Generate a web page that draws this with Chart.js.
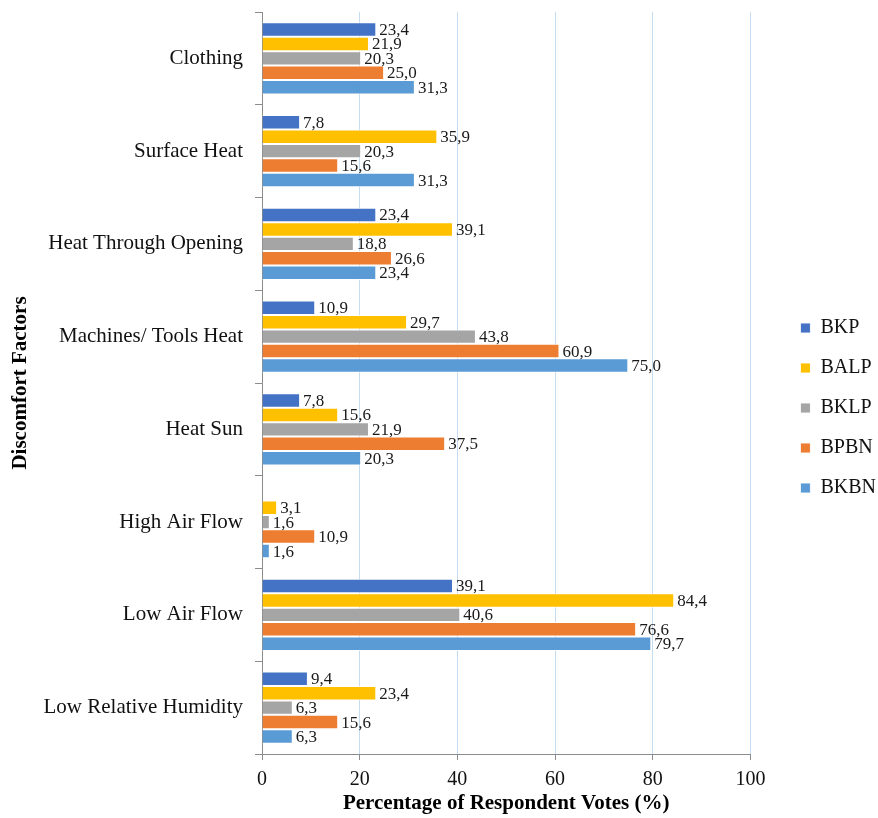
<!DOCTYPE html>
<html>
<head>
<meta charset="utf-8">
<script src="https://cdn.jsdelivr.net/npm/chart.js@4.4.1/dist/chart.umd.min.js"></script>
<style>
  html, body { margin: 0; padding: 0; background: #fff; }
  #wrap { width: 878px; height: 818px; }
</style>
</head>
<body>
<div id="wrap"><canvas id="c"></canvas></div>
<script>
// Discomfort factors, listed top to bottom
const factors = [
  'Clothing',
  'Surface Heat',
  'Heat Through Opening',
  'Machines/ Tools Heat',
  'Heat Sun',
  'High Air Flow',
  'Low Air Flow',
  'Low Relative Humidity'
];

// Percentage of respondent votes per group
const BKP  = [23.4,  7.8, 23.4, 10.9,  7.8, null, 39.1,  9.4];
const BALP = [21.9, 35.9, 39.1, 29.7, 15.6,  3.1, 84.4, 23.4];
const BKLP = [20.3, 20.3, 18.8, 43.8, 21.9,  1.6, 40.6,  6.3];
const BPBN = [25.0, 15.6, 26.6, 60.9, 37.5, 10.9, 76.6, 15.6];
const BKBN = [31.3, 31.3, 23.4, 75.0, 20.3,  1.6, 79.7,  6.3];

const xTicks = [0, 20, 40, 60, 80, 100];

const serif = "'Liberation Serif', 'Times New Roman', serif";

// Value labels written just past the end of each bar, decimal comma
const valueLabels = {
  id: 'valueLabels',
  afterDatasetsDraw(chart) {
    const ctx = chart.ctx;
    ctx.save();
    ctx.font = '17px ' + serif;
    ctx.fillStyle = '#1a1a1a';
    ctx.textAlign = 'left';
    ctx.textBaseline = 'middle';
    chart.data.datasets.forEach((ds, i) => {
      const meta = chart.getDatasetMeta(i);
      if (meta.hidden) return;
      meta.data.forEach((bar, j) => {
        const v = ds.data[j];
        if (v === null || v === undefined) return;
        const txt = v.toFixed(1).replace('.', ',');
        ctx.fillText(txt, bar.x + 3, bar.y + 1);
      });
    });
    ctx.restore();
  }
};

const mk = (label, data, color) => ({
  label, data,
  backgroundColor: color,
  borderColor: 'rgba(255,255,255,0.85)',
  borderWidth: 1,
  categoryPercentage: 0.78,
  barPercentage: 1.0
});

new Chart(document.getElementById('c'), {
  type: 'bar',
  data: {
    labels: factors,
    datasets: [
      mk('BKP',  BKP,  '#4472C4'),
      mk('BALP', BALP, '#FFC000'),
      mk('BKLP', BKLP, '#A5A5A5'),
      mk('BPBN', BPBN, '#ED7D31'),
      mk('BKBN', BKBN, '#5B9BD5')
    ]
  },
  options: {
    indexAxis: 'y',
    responsive: true,
    maintainAspectRatio: false,
    animation: false,
    layout: { padding: { top: 0, right: -8, bottom: 2, left: 4 } },
    plugins: {
      tooltip: { enabled: false },
      legend: {
        position: 'right',
        align: 'center',
        labels: {
          boxWidth: 10,
          boxHeight: 10,
          padding: 20,
          color: '#111',
          font: { family: serif, size: 20 }
        }
      }
    },
    scales: {
      x: {
        min: 0,
        max: 100,
        afterBuildTicks(scale) { scale.ticks = xTicks.map(v => ({ value: v })); },
        afterFit(scale) { scale.height = 62; },
        grid: {
          color: '#C5DBF0',
          lineWidth: 1,
          drawTicks: true,
          tickLength: 6,
          tickColor: '#8c8c8c'
        },
        border: { display: true, color: '#8c8c8c', width: 1 },
        ticks: {
          color: '#111',
          padding: 8,
          font: { family: serif, size: 20 }
        },
        title: {
          display: true,
          text: 'Percentage of Respondent Votes (%)',
          color: '#000',
          padding: { top: 0, bottom: 0 },
          font: { family: serif, size: 21, weight: 'bold' }
        }
      },
      y: {
        afterFit(scale) {
          scale.width = 258;
          scale.paddingTop = 12;
          scale.paddingBottom = 0;
        },
        grid: {
          offset: true,
          drawOnChartArea: false,
          drawTicks: true,
          tickLength: 7,
          color: '#8c8c8c'
        },
        border: { display: true, color: '#8c8c8c', width: 1 },
        ticks: {
          color: '#111',
          padding: 12,
          font: { family: serif, size: 21 }
        },
        title: {
          display: true,
          text: 'Discomfort Factors',
          color: '#000',
          padding: { top: 4, bottom: 10 },
          font: { family: serif, size: 21, weight: 'bold' }
        }
      },
      // empty spacer axis that keeps the legend clear of the plot
      gap: {
        axis: 'y',
        type: 'linear',
        position: 'right',
        display: true,
        grid: { display: false },
        border: { display: false },
        ticks: { display: false },
        afterFit(scale) { scale.width = 30; }
      }
    }
  },
  plugins: [valueLabels]
});
</script>
</body>
</html>
